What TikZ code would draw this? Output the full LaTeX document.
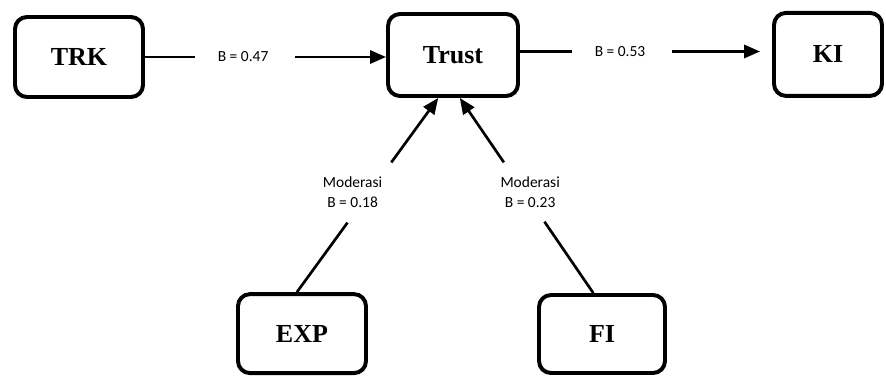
\documentclass[tikz,border=0pt]{standalone}
\usepackage{fontspec}
\setmainfont{Liberation Serif}
\newfontfamily\lblfont{Carlito}
\usepackage{tikz}
\usetikzlibrary{arrows.meta}

\tikzset{
  box/.style={draw, line width=2.8pt, rounded corners=0.3cm, inner sep=0pt,
    font=\fontsize{18.5}{20}\selectfont\bfseries},
  link/.style={line width=1.9pt},
  arr/.style={-{Triangle[length=0.4cm,width=0.33cm]}},
  lbl/.style={inner sep=0pt, align=center, font=\lblfont\fontsize{11}{14}\selectfont}
}

\begin{document}
\begin{tikzpicture}
	 \useasboundingbox (0,0) rectangle (22.15,9.4);
	 \node[box, minimum width=3.2cm,  minimum height=2cm]     (TRK)   at (1.975,7.975) {TRK};
	 \node[box, minimum width=3.25cm, minimum height=2.05cm]  (Trust) at (11.325,8.025) {Trust};
	 \node[box, minimum width=2.7cm,  minimum height=2.075cm] (KI)    at (20.7,8.04) {KI};
	 \node[box, minimum width=3.2cm,  minimum height=1.975cm] (EXP)   at (7.55,1.06) {EXP};
	 \node[box, minimum width=3.15cm, minimum height=1.95cm]  (FI)    at (15.05,1.05) {FI};
	 % TRK -> Trust
	 \path (TRK.east) -- (TRK.east -| Trust.west)
	   coordinate[pos=0.207] (trk-a) coordinate[pos=0.622] (trk-b)
	   node[lbl, pos=0.407] (lbl-trk) {B = 0.47};
	 \draw[link] (TRK.east) -- (trk-a);
	 \draw[link, arr] (trk-b) -- (TRK.east -| Trust.west);
	 % Trust -> KI
	 \path (Trust.3) -- (Trust.3 -| KI.west)
	   coordinate[pos=0.206] (ki-a) coordinate[pos=0.603] (ki-b)
	   node[lbl, pos=0.397] (lbl-ki) {B = 0.53};
	 \draw[link] (Trust.3) -- (ki-a);
	 \draw[link, arr, shorten >=0.3cm] (ki-b) -- (Trust.3 -| KI.west);
	 % EXP -> Trust
	 \path (EXP.97) -- (Trust.-109)
	   coordinate[pos=0.358] (exp-a) coordinate[pos=0.668] (exp-b)
	   coordinate[pos=0.513] (exp-m);
	 \node[lbl, xshift=-0.42cm] (lbl-exp) at (exp-m) {Moderasi\\B = 0.18};
	 \draw[link] (EXP.97) -- (exp-a);
	 \draw[link, arr] (exp-b) -- (Trust.-109);
	 % FI -> Trust
	 \path (FI.102) -- (Trust.-81)
	   coordinate[pos=0.366] (fi-a) coordinate[pos=0.67] (fi-b)
	   coordinate[pos=0.518] (fi-m);
	 \node[lbl, xshift=0.15cm] (lbl-fi) at (fi-m) {Moderasi\\B = 0.23};
	 \draw[link] (FI.102) -- (fi-a);
	 \draw[link, arr] (fi-b) -- (Trust.-81);
\end{tikzpicture}
\end{document}
